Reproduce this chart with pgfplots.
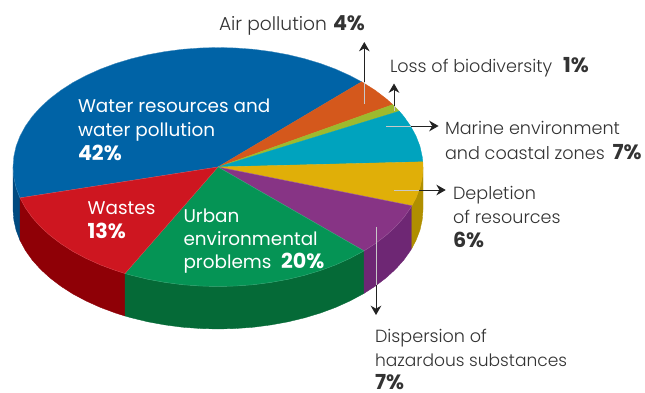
\documentclass[border=0pt]{standalone}
\usepackage{fontspec}
\setmainfont{Poppins}[UprightFont=* Light,BoldFont=* Bold]
\newfontfamily\wf{Poppins}
\newcommand\pct[1]{{\fontsize{15.5}{16}\selectfont\bfseries #1}}
\usepackage{pgfplots}
\pgfplotsset{compat=1.18}
\usetikzlibrary{arrows.meta}
\definecolor{cBlue}{HTML}{0063A6}\definecolor{sBlue}{HTML}{004A80}
\definecolor{cOrange}{HTML}{D4581C}
\definecolor{cLime}{HTML}{9DBA2E}
\definecolor{cTeal}{HTML}{00A3BE}
\definecolor{cYellow}{HTML}{E0AF08}\definecolor{sYellow}{HTML}{B08F00}
\definecolor{cPurple}{HTML}{873485}\definecolor{sPurple}{HTML}{6E2774}
\definecolor{cGreen}{HTML}{059455}\definecolor{sGreen}{HTML}{056A37}
\definecolor{cRed}{HTML}{CE1620}\definecolor{sRed}{HTML}{8F0006}
\definecolor{txt}{HTML}{333333}
\definecolor{arr}{HTML}{222222}
\definecolor{arl}{HTML}{C8C8C8}
\tikzset{lab/.style={anchor=base west,inner sep=0pt,outer sep=0pt,font=\fontsize{13.2}{14}\selectfont,text=txt},
  wlab/.style={anchor=base west,inner sep=0pt,outer sep=0pt,font=\wf\fontsize{13.8}{15}\selectfont,text=white}}
\begin{document}
\begin{tikzpicture}
\useasboundingbox (0,0) rectangle (483.75pt,294pt);
\begin{axis}[at={(0,0)},anchor=south west,scale only axis,width=483.75pt,height=294pt,
  xmin=0,xmax=645,ymin=0,ymax=392,y dir=reverse,hide axis,clip=false,
  every axis plot/.append style={no markers,line width=0.25pt}]
% side walls
\addplot[fill=sBlue,draw=sBlue] coordinates {(20,197.9)(16.1,187.8)(13.8,177.4)(13,167)(13,209.5)(13.8,219.9)(16.1,230.3)(20,240.4)(20,197.9)};
\addplot[fill=sRed,draw=sRed] coordinates {(125,273.5)(115.5,270.5)(100.4,264.9)(86.2,258.5)(73,251.5)(61,243.8)(50.1,235.5)(40.5,226.75)(32.2,217.5)(25.4,207.9)(20,197.9)(20,240.4)(25.4,250.4)(32.2,260)(40.5,269.25)(50.1,278)(61,286.3)(73,294)(86.2,301)(100.4,307.4)(115.5,313)(125,316)(125,273.5)};
\addplot[fill=sGreen,draw=sGreen] coordinates {(364,250.9)(349.8,258.5)(335.6,264.9)(320.5,270.5)(304.6,275.3)(288.1,279.3)(271.1,282.4)(253.6,284.7)(235.9,286)(218,286.5)(200.1,286)(182.4,284.7)(164.9,282.4)(147.9,279.3)(131.4,275.3)(125,273.5)(125,316)(131.4,317.8)(147.9,321.8)(164.9,324.9)(182.4,327.2)(200.1,328.5)(218,329)(235.9,328.5)(253.6,327.2)(271.1,324.9)(288.1,321.8)(304.6,317.8)(320.5,313)(335.6,307.4)(349.8,301)(364,293.4)(364,250.9)};
\addplot[fill=sPurple,draw=sPurple] coordinates {(411.9,205.7)(410.6,207.9)(403.8,217.5)(395.5,226.75)(385.9,235.5)(375,243.8)(364,250.9)(364,293.4)(375,286.3)(385.9,278)(395.5,269.25)(403.8,260)(410.6,250.4)(411.9,248.2)(411.9,205.7)};
\addplot[fill=sYellow,draw=sYellow] coordinates {(423,167)(422.2,177.4)(419.9,187.8)(416,197.9)(411.9,205.7)(411.9,248.2)(416,240.4)(419.9,230.3)(422.2,219.9)(423,209.5)(423,167)};
% top wedges
\addplot[fill=cBlue,draw=cBlue!75!white] coordinates {(218,167)(20,197.9)(16.1,187.8)(13.8,177.4)(13,167)(13.8,156.6)(16.1,146.2)(20,136.1)(25.4,126.1)(32.2,116.5)(40.5,107.25)(50.1,98.5)(61,90.2)(73,82.5)(86.2,75.5)(100.4,69.1)(115.5,63.5)(131.4,58.7)(147.9,54.7)(164.9,51.6)(182.4,49.3)(200.1,48)(218,47.5)(235.9,48)(253.6,49.3)(271.1,51.6)(288.1,54.7)(304.6,58.7)(320.5,63.5)(335.6,69.1)(349.8,75.5)(361.7,81.8)(218,167)};
\addplot[fill=cOrange,draw=cOrange] coordinates {(218,167)(361.7,81.8)(375,90.2)(385.9,98.5)(392.8,104.6)(218,167)};
\addplot[fill=cLime,draw=cLime] coordinates {(218,167)(392.8,104.6)(395.5,107.25)(399.3,111.2)(218,167)};
\addplot[fill=cTeal,draw=cTeal] coordinates {(218,167)(399.3,111.2)(403.8,116.5)(410.6,126.1)(416,136.1)(419.9,146.2)(422.2,156.6)(422.8,161.8)(218,167)};
\addplot[fill=cYellow,draw=cYellow] coordinates {(218,167)(422.8,161.8)(423,167)(422.2,177.4)(419.9,187.8)(416,197.9)(411.9,205.7)(218,167)};
\addplot[fill=cPurple,draw=cPurple!80!white] coordinates {(218,167)(411.9,205.7)(410.6,207.9)(403.8,217.5)(395.5,226.75)(385.9,235.5)(375,243.8)(364,250.9)(218,167)};
\addplot[fill=cGreen,draw=cGreen!80!white] coordinates {(218,167)(364,250.9)(349.8,258.5)(335.6,264.9)(320.5,270.5)(304.6,275.3)(288.1,279.3)(271.1,282.4)(253.6,284.7)(235.9,286)(218,286.5)(200.1,286)(182.4,284.7)(164.9,282.4)(147.9,279.3)(131.4,275.3)(125,273.5)(218,167)};
\addplot[fill=cRed,draw=cRed!80!white] coordinates {(218,167)(125,273.5)(115.5,270.5)(100.4,264.9)(86.2,258.5)(73,251.5)(61,243.8)(50.1,235.5)(40.5,226.75)(32.2,217.5)(25.4,207.9)(20,197.9)(218,167)};
% leader arrows
\draw[arr,line width=0.6pt,-{Stealth[length=7pt,width=8pt]}] (axis cs:364.3,82) -- (axis cs:364.3,42);
\draw[arl,line width=0.7pt] (axis cs:364.3,104) -- (axis cs:364.3,82);
\draw[arr,line width=0.6pt,-{Stealth[length=7pt,width=8pt]}] (axis cs:394,106) -- (axis cs:394,83.5);
\draw[arl,line width=0.7pt] (axis cs:394,111) -- (axis cs:394,106);
\draw[arr,line width=0.6pt,-{Stealth[length=7pt,width=8pt]}] (axis cs:411,126) -- (axis cs:438.5,126);
\draw[arl,line width=0.7pt] (axis cs:386,126) -- (axis cs:411,126);
\draw[arr,line width=0.6pt,-{Stealth[length=7pt,width=8pt]}] (axis cs:419,190) -- (axis cs:445.7,190);
\draw[arl,line width=0.7pt] (axis cs:394,190) -- (axis cs:419,190);
\draw[arr,line width=0.6pt,-{Stealth[length=7pt,width=8pt]}] (axis cs:376,285) -- (axis cs:376,315);
\draw[arl,line width=0.7pt] (axis cs:376,226.7) -- (axis cs:376,285);
% labels
\node[lab,font=\fontsize{14}{15}\selectfont] at (axis cs:219,31) {Air pollution};
\node[lab] at (axis cs:333,31) {\pct{4\%}};
\node[lab] at (axis cs:390,72.7) {Loss of biodiversity};
\node[lab] at (axis cs:563,72.7) {\pct{1\%}};
\node[lab] at (axis cs:445,135) {Marine environment};
\node[lab] at (axis cs:445,159) {and coastal zones};
\node[lab] at (axis cs:612.5,159) {\pct{7\%}};
\node[lab] at (axis cs:453,199) {Depletion};
\node[lab] at (axis cs:453,223) {of resources};
\node[lab] at (axis cs:453,247) {\pct{6\%}};
\node[lab] at (axis cs:375,342) {Dispersion of};
\node[lab,font=\fontsize{12.8}{14}\selectfont] at (axis cs:375,366) {hazardous substances};
\node[lab] at (axis cs:375,389.5) {\pct{7\%}};
\node[wlab] at (axis cs:78,112.7) {Water resources and};
\node[wlab] at (axis cs:78,136.7) {water pollution};
\node[wlab] at (axis cs:78,161) {\pct{42\%}};
\node[wlab] at (axis cs:87.7,214) {Wastes};
\node[wlab] at (axis cs:87.7,238.3) {\pct{13\%}};
\node[wlab] at (axis cs:183.5,222.3) {Urban};
\node[wlab] at (axis cs:183.5,245) {environmental};
\node[wlab] at (axis cs:183.5,268.3) {problems};
\node[wlab] at (axis cs:281,268.3) {\pct{20\%}};
\end{axis}
\end{tikzpicture}
\end{document}
